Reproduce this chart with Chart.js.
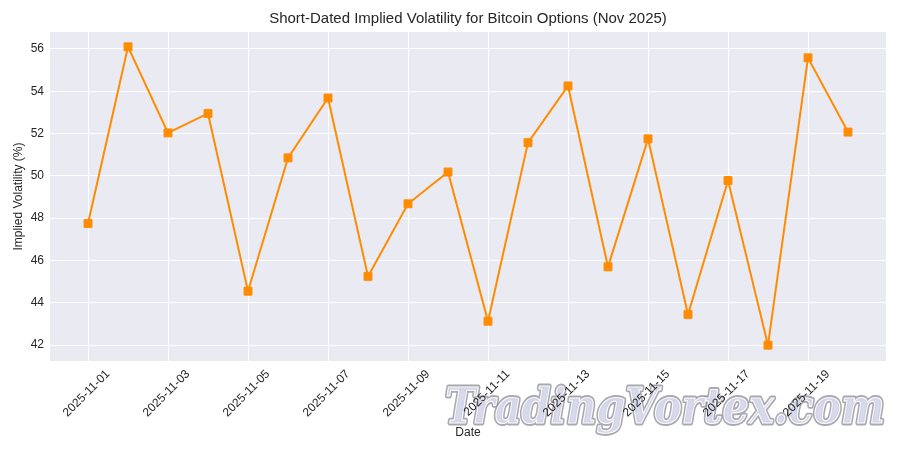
<!DOCTYPE html>
<html>
<head>
<meta charset="utf-8">
<script src="https://cdn.jsdelivr.net/npm/chart.js@4"></script>
<style>
  html, body { margin: 0; padding: 0; background: #ffffff; }
  #wrap { width: 900px; height: 450px; }
</style>
</head>
<body>
<div id="wrap"><canvas id="ivChart" width="900" height="450"></canvas></div>
<script>
// dates (Nov 2025) and implied volatility readings
const dates = [
    '2025-11-01', '2025-11-02', '2025-11-03', '2025-11-04', '2025-11-05',
    '2025-11-06', '2025-11-07', '2025-11-08', '2025-11-09', '2025-11-10',
    '2025-11-11', '2025-11-12', '2025-11-13', '2025-11-14', '2025-11-15',
    '2025-11-16', '2025-11-17', '2025-11-18', '2025-11-19', '2025-11-20'
];
const ivValues = [
    47.75, 56.1, 52.03, 52.95, 44.55,
    50.85, 53.68, 45.25, 48.68, 50.18,
    43.13, 51.57, 54.25, 45.7, 51.75,
    43.45, 49.78, 42.0, 55.58, 52.07
];
const xTickLabels = [
    '2025-11-01', '2025-11-03', '2025-11-05', '2025-11-07', '2025-11-09',
    '2025-11-11', '2025-11-13', '2025-11-15', '2025-11-17', '2025-11-19'
];
const yTicks = [42, 44, 46, 48, 50, 52, 54, 56];

const FONT = '"Liberation Sans", Arial, sans-serif';
const TXT = '#262626';
const TITLE = 'Short-Dated Implied Volatility for Bitcoin Options (Nov 2025)';

// day number from a date string, used as x position
const dayOf = (s) => parseInt(s.slice(8), 10);

// seaborn-like plot background, title over the axes, watermark under the axis text
const bgPlugin = {
    id: 'bgPlugin',
    beforeDraw(chart) {
        const { ctx, chartArea: a } = chart;
        ctx.save();
        ctx.fillStyle = '#EAEAF2';
        ctx.fillRect(a.left, a.top, a.right - a.left, a.bottom - a.top);

        // title centred on the plot area, like matplotlib
        ctx.fillStyle = TXT;
        ctx.font = '15px ' + FONT;
        ctx.textAlign = 'center';
        ctx.textBaseline = 'middle';
        ctx.fillText(TITLE, (a.left + a.right) / 2, 19);

        // watermark text
        const text = 'TradingVortex.com';
        ctx.textAlign = 'left';
        ctx.textBaseline = 'alphabetic';
        ctx.font = 'italic bold 40px "DejaVu Serif", serif';
        const w = ctx.measureText(text).width;
        ctx.translate(445, 423);
        ctx.scale(440 / w, 1.22);
        ctx.lineJoin = 'round';
        ctx.lineWidth = 4;
        ctx.strokeStyle = 'rgba(140,140,150,0.75)';
        ctx.strokeText(text, 0, 0);
        ctx.fillStyle = 'rgba(215,215,235,0.95)';
        ctx.fillText(text, 0, 0);
        ctx.lineWidth = 1;
        ctx.strokeStyle = 'rgba(255,255,255,0.9)';
        ctx.strokeText(text, 0, 0);
        ctx.restore();
    }
};

new Chart(document.getElementById('ivChart').getContext('2d'), {
    type: 'line',
    data: {
        datasets: [{
            label: 'Implied Volatility',
            data: dates.map((d, i) => ({ x: dayOf(d), y: ivValues[i] })),
            borderColor: '#FF8C00',
            backgroundColor: '#FF8C00',
            borderWidth: 2,
            pointStyle: 'rect',
            pointRadius: 5.6,
            pointBorderWidth: 1,
            pointHoverRadius: 5.6,
            tension: 0
        }]
    },
    options: {
        responsive: false,
        animation: false,
        layout: { padding: { left: 6, right: 14, top: 32, bottom: 10 } },
        plugins: {
            legend: { display: false },
            tooltip: { enabled: false },
            title: { display: false }
        },
        scales: {
            x: {
                type: 'linear',
                min: 0.05,
                max: 20.95,
                border: { display: false },
                grid: { color: '#ffffff', lineWidth: 1, drawTicks: false },
                afterBuildTicks: (axis) => {
                    axis.ticks = xTickLabels.map(s => ({ value: dayOf(s) }));
                },
                afterFit: (axis) => { axis.height = 79; },
                ticks: {
                    color: TXT,
                    font: { family: FONT, size: 12 },
                    minRotation: 45,
                    maxRotation: 45,
                    labelOffset: 20,
                    padding: 6,
                    callback: (v) => '2025-11-' + String(v).padStart(2, '0')
                },
                title: {
                    display: true,
                    text: 'Date',
                    color: TXT,
                    font: { family: FONT, size: 12 },
                    padding: { top: 0, bottom: 0 }
                }
            },
            y: {
                min: 41.25,
                max: 56.8,
                border: { display: false },
                grid: { color: '#ffffff', lineWidth: 1, drawTicks: false },
                afterBuildTicks: (axis) => {
                    axis.ticks = yTicks.map(v => ({ value: v }));
                },
                afterFit: (axis) => { axis.width = 44; },
                ticks: {
                    color: TXT,
                    font: { family: FONT, size: 12 },
                    padding: 6
                },
                title: {
                    display: true,
                    text: 'Implied Volatility (%)',
                    color: TXT,
                    font: { family: FONT, size: 12 },
                    padding: { top: 5, bottom: 0 }
                }
            }
        }
    },
    plugins: [bgPlugin]
});
</script>
</body>
</html>
